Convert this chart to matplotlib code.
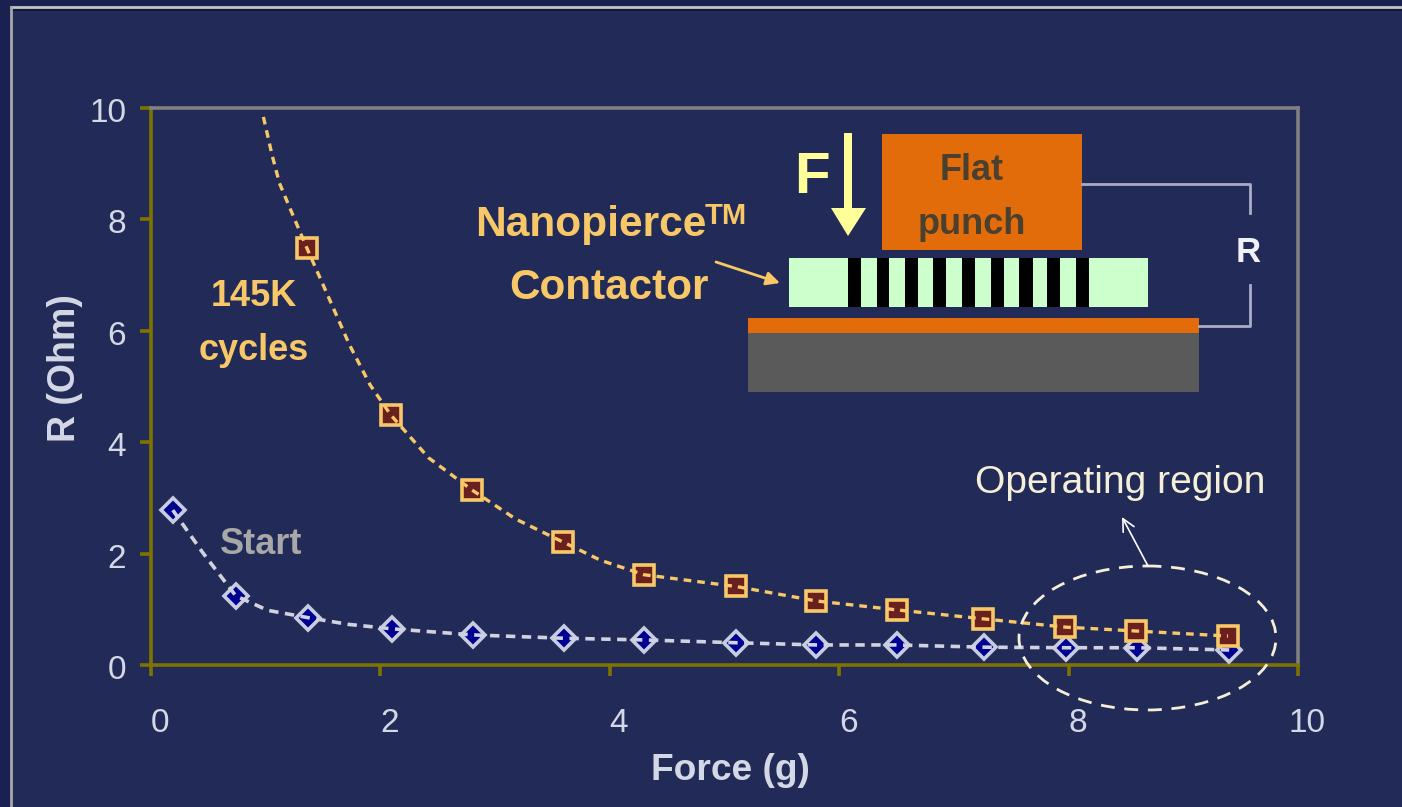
import matplotlib
matplotlib.use('Agg')
import matplotlib.pyplot as plt
from matplotlib.patches import Rectangle, Ellipse, Polygon
from matplotlib.transforms import ScaledTranslation

plt.rcParams['font.family'] = ['Liberation Sans', 'DejaVu Sans']

W, H = 1402, 807
DPI = 100

start_x = [0.19, 0.74, 1.37, 2.10, 2.81, 3.60, 4.30, 5.10, 5.80, 6.50, 7.26, 7.98, 8.60, 9.40]
start_y = [2.78, 1.24, 0.85, 0.65, 0.54, 0.48, 0.45, 0.40, 0.36, 0.36, 0.32, 0.31, 0.31, 0.27]

cycled_x = [1.36, 2.09, 2.80, 3.59, 4.30, 5.10, 5.80, 6.50, 7.25, 7.97, 8.59, 9.39]
cycled_y = [7.48, 4.49, 3.14, 2.21, 1.62, 1.41, 1.15, 0.99, 0.83, 0.68, 0.61, 0.52]

# dashed trend lines, with a few extra points read between the markers
start_line_x = [0.19, 0.45, 0.74, 1.02, 1.37, 1.72, 2.10, 2.81, 3.60, 4.30, 5.10, 5.80, 6.50, 7.26, 7.98, 8.60, 9.40]
start_line_y = [2.78, 2.02, 1.24, 0.98, 0.85, 0.73, 0.65, 0.54, 0.48, 0.45, 0.40, 0.36, 0.36, 0.32, 0.31, 0.31, 0.27]
cycled_line_x = [0.98, 1.055, 1.12, 1.23, 1.36, 1.54, 1.73, 1.91, 2.09, 2.42, 2.80, 3.18, 3.59, 3.92, 4.30, 5.10, 5.80, 6.50, 7.25, 7.97, 8.59, 9.39]
cycled_line_y = [9.84, 9.16, 8.65, 8.11, 7.48, 6.64, 5.75, 5.03, 4.49, 3.72, 3.14, 2.62, 2.21, 1.88, 1.62, 1.41, 1.15, 0.99, 0.83, 0.68, 0.61, 0.52]

x_ticks = [0, 2, 4, 6, 8, 10]
y_ticks = [0, 2, 4, 6, 8, 10]

# black stripes of the contactor, left and right pixel edges
stripes = [(848, 861), (877, 889), (905, 918), (933, 946), (962, 975),
           (991, 1004), (1019, 1033), (1047, 1060), (1076, 1089)]

NAVY = '#222b57'
OLIVE = '#7f7300'
GREY = '#808080'
ORANGE = '#e36c0a'
GOLD = '#f8c868'
CREAM = '#f5efd8'
LABEL = '#d4d8e6'
WIRE = '#a9acc8'
PALE = '#ffff99'

fig = plt.figure(figsize=(W / DPI, H / DPI), dpi=DPI, facecolor='#1a2050')

# overlay in image pixels, for the slide frame and the drawing
bg = fig.add_axes([0, 0, 1, 1], zorder=0)
bg.set_xlim(0, W)
bg.set_ylim(H, 0)
bg.axis('off')
bg.add_patch(Rectangle((11, 7), W, H, fc=NAVY, ec='none'))
bg.plot([11, W], [9.5, 9.5], color='#14183a', lw=1.5)
bg.plot([11, W], [7, 7], color='#c4c4c4', lw=2)
bg.plot([11, 11], [7, H], color='#a8a8a8', lw=2)

ax = fig.add_axes([151 / W, 1 - 665 / H, (1298 - 151) / W, (665 - 108) / H], zorder=1)
ax.patch.set_alpha(0)
ax.set_xlim(0, 10)
ax.set_ylim(0, 10)

ax.plot(start_x, start_y, ls='none', marker='D', ms=12.5, mfc='#000090', mec='#c8cce0', mew=2.6, zorder=3, clip_on=False)
ax.plot(start_line_x, start_line_y, color='#d0d2e0', lw=2.6, dashes=(2.6, 1.8), zorder=4)
ax.plot(cycled_x, cycled_y, ls='none', marker='s', ms=14, mfc='#6b2020', mec=GOLD, mew=2.6, zorder=5)
ax.plot(cycled_line_x, cycled_line_y, color=GOLD, lw=2.4, dashes=(2.3, 1.8), zorder=6)

for side in ('left', 'bottom'):
    ax.spines[side].set_color(OLIVE)
    ax.spines[side].set_linewidth(2.6)
for side in ('top', 'right'):
    ax.spines[side].set_color(GREY)
    ax.spines[side].set_linewidth(2.6)

ax.set_xticks(x_ticks)
ax.set_yticks(y_ticks)
ax.tick_params(axis='both', direction='out', length=8, width=2.6, color=OLIVE,
               labelcolor=LABEL, labelsize=24)
ax.tick_params(axis='x', pad=23)
ax.tick_params(axis='y', pad=10)
# the slide's x labels sit a little right of their ticks, the y labels a little low
shift_x = ScaledTranslation(9 / DPI, 0, fig.dpi_scale_trans)
shift_y = ScaledTranslation(0, -2 / DPI, fig.dpi_scale_trans)
for lab in ax.get_xticklabels():
    lab.set_transform(lab.get_transform() + shift_x)
for lab in ax.get_yticklabels():
    lab.set_transform(lab.get_transform() + shift_y)

bg.text(730, 770, 'Force (g)', color=LABEL, fontsize=26.7, fontweight='bold', ha='center', va='center')
bg.text(65, 368, 'R (Ohm)', color=LABEL, fontsize=27, fontweight='bold', rotation=90, ha='center', va='center')

# drawing of the test setup
top = fig.add_axes([0, 0, 1, 1], zorder=2)
top.set_xlim(0, W)
top.set_ylim(H, 0)
top.axis('off')
top.add_patch(Rectangle((882, 134), 200, 116, fc=ORANGE, ec='none'))
top.add_patch(Rectangle((789, 258), 359, 49, fc='#ccffcc', ec='none'))
for left, right in stripes:
    top.add_patch(Rectangle((left, 258), right - left, 49, fc='black', ec='none'))
top.add_patch(Rectangle((748, 318), 451, 15, fc=ORANGE, ec='none'))
top.add_patch(Rectangle((748, 333), 451, 59, fc='#5a5a5a', ec='none'))
top.plot([1082, 1250, 1250], [184, 184, 213], color=WIRE, lw=2)
top.plot([1250, 1250, 1199], [285, 326, 326], color=WIRE, lw=2)
top.add_patch(Rectangle((844, 133), 8, 76, fc=PALE, ec='none'))
top.add_patch(Polygon([(831, 208), (866, 208), (848, 236)], fc=PALE, ec='none'))
top.annotate('', xy=(780, 283), xytext=(716, 262),
             arrowprops=dict(arrowstyle='-|>', color=GOLD, lw=2, mutation_scale=20, shrinkA=0, shrinkB=0))

top.text(812, 178, 'F', color=PALE, fontsize=42, fontweight='bold', ha='center', va='center')
top.text(972, 171, 'Flat', color='#4a4030', fontsize=26, fontweight='bold', ha='center', va='center')
top.text(972, 225, 'punch', color='#4a4030', fontsize=26, fontweight='bold', ha='center', va='center')
top.text(1248, 252, 'R', color='#f0f0f8', fontsize=25, fontweight='bold', ha='center', va='center')
top.text(475, 225, 'Nanopierce', color=GOLD, fontsize=30.6, fontweight='bold', ha='left', va='center')
top.text(705, 216, 'TM', color=GOLD, fontsize=21, fontweight='bold', ha='left', va='center')
top.text(609, 288, 'Contactor', color=GOLD, fontsize=30.4, fontweight='bold', ha='center', va='center')
top.text(254, 296, '145K', color=GOLD, fontsize=26, fontweight='bold', ha='center', va='center')
top.text(254, 350, 'cycles', color=GOLD, fontsize=26, fontweight='bold', ha='center', va='center')
top.text(261, 544, 'Start', color='#a8a8a8', fontsize=26, fontweight='bold', ha='center', va='center')

top.text(1120, 483, 'Operating region', color=CREAM, fontsize=28.1, ha='center', va='center')
top.add_patch(Ellipse((1147.5, 638), 257, 144, fc='none', ec=CREAM, lw=2, ls=(0, (5, 3.5))))
top.annotate('', xy=(1122, 517), xytext=(1148, 566),
             arrowprops=dict(arrowstyle='->', color='white', lw=1.2, mutation_scale=22, shrinkA=0, shrinkB=0))

fig.savefig('out.png', dpi=DPI, facecolor=fig.get_facecolor())
plt.close(fig)
